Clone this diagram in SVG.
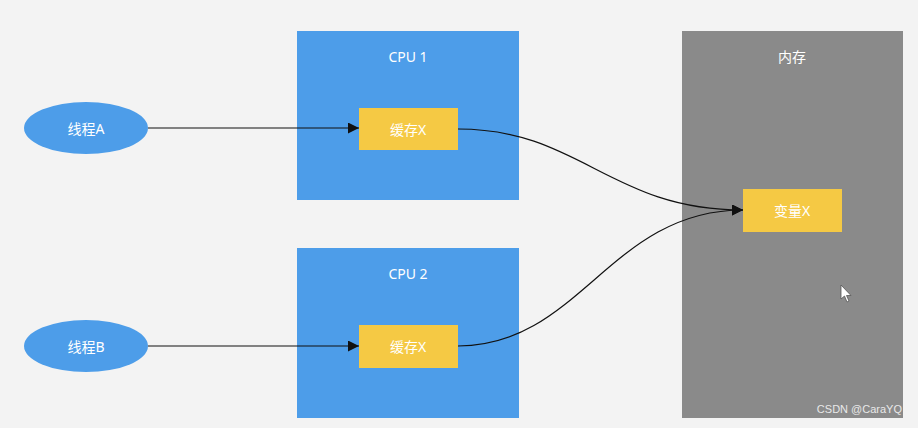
<svg xmlns="http://www.w3.org/2000/svg" width="918" height="428" viewBox="0 0 918 428">
<defs>
<style>
.cpu{fill:#4d9de9}
.mem{fill:#8a8a8a}
.box{fill:#f5c944}
.th{fill:#4d9de9}
.t{font-family:"Noto Sans","Noto Sans CJK SC",sans-serif;font-size:14px;fill:#ffffff;text-anchor:middle;dominant-baseline:central}
.edge{fill:none;stroke:#111;stroke-width:1.2}
</style>
<marker id="ah" viewBox="0 0 10 10" refX="10" refY="5" markerWidth="16" markerHeight="11" markerUnits="userSpaceOnUse" orient="auto">
<path d="M0,0 L10,5 L0,10 Z" fill="#111"/>
</marker>
</defs>
<rect width="918" height="428" fill="#f3f3f3"/>
<g id="cpu1"><rect class="cpu" x="297" y="31" width="222" height="169"/><text class="t" x="408" y="56">CPU 1</text></g>
<g id="cpu2"><rect class="cpu" x="297" y="248" width="222" height="170"/><text class="t" x="408" y="273">CPU 2</text></g>
<g id="mem"><rect class="mem" x="682" y="31" width="221" height="387"/><text class="t" x="792" y="56">内存</text></g>
<g id="cache1"><rect class="box" x="359" y="108" width="99" height="42"/><text class="t" x="408" y="129">缓存X</text></g>
<g id="cache2"><rect class="box" x="359" y="325" width="99" height="43"/><text class="t" x="408" y="346">缓存X</text></g>
<g id="varx"><rect class="box" x="743" y="189" width="99" height="43"/><text class="t" x="792" y="210">变量X</text></g>
<g id="threadA"><ellipse class="th" cx="86" cy="128" rx="62" ry="26"/><text class="t" x="86" y="128">线程A</text></g>
<g id="threadB"><ellipse class="th" cx="86" cy="346" rx="62" ry="26"/><text class="t" x="86" y="346">线程B</text></g>
<g id="connectors">
<path class="edge" d="M148,128 L359,128" marker-end="url(#ah)"/>
<path class="edge" d="M148,346 L359,346" marker-end="url(#ah)"/>
<path class="edge" d="M458,129 C580,129 610,210 743,210" marker-end="url(#ah)"/>
<path class="edge" d="M458,346 C580,346 610,210 743,210" marker-end="url(#ah)"/>
</g>
<path d="M841,285 L841,299 L844.5,296 L847,302 L849,301 L846.5,295.5 L851,295.5 Z" fill="#fff" stroke="#555" stroke-width="0.8"/>
<text x="902" y="413" font-family="'Liberation Sans',sans-serif" font-size="11" fill="#e8e8e8" text-anchor="end">CSDN @CaraYQ</text>
</svg>
